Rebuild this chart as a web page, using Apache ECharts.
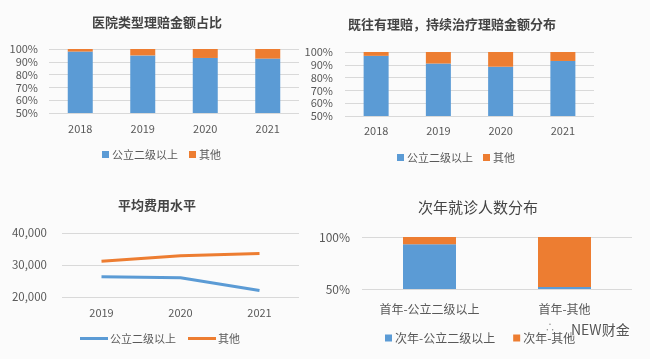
<!DOCTYPE html>
<html>
<head>
<meta charset="utf-8">
<style>
html,body{margin:0;padding:0;background:#fbfbfb;}
#c{width:650px;height:359px;filter:blur(0.4px);}
</style>
<script src="https://cdn.jsdelivr.net/npm/echarts@6/dist/echarts.min.js"></script>
</head>
<body>
<div id="c"></div>
<script>
var years4 = ['2018','2019','2020','2021'];
var years3 = ['2019','2020','2021'];
var cats4 = ['首年-公立二级以上','首年-其他'];

var amountPublic = [98, 95, 93, 92.5];
var amountOther = [2, 5, 7, 7.5];
var ongoingPublic = [97, 91, 88.5, 93];
var ongoingOther = [3, 9, 11.5, 7];
var costPublic = [26300, 26000, 22000];
var costOther = [31200, 32900, 33600];
var nextPublic = [93, 52];
var nextOther = [7, 48];

var nPublic = '公立二级以上';
var nOther = '其他';
var nNextPublic = '次年-公立二级以上';
var nNextOther = '次年-其他';

var BLUE = '#5b9bd5', ORANGE = '#ed7d31', TXT = '#595959', GRID = '#d9d9d9';
var FONT = '"Noto Sans CJK SC","Open Sans",sans-serif';

var grids = [
  {left:49, top:49, width:250, height:64},
  {left:345, top:52, width:249, height:64},
  {left:62, top:233, width:237, height:64},
  {left:362, top:237, width:270, height:52}
];
function xa(i, data, fs, margin){
  return {gridIndex:i, type:'category', data:data,
    axisLine:{show:false}, axisTick:{show:false},
    axisLabel:{color:TXT, fontSize:fs, fontFamily:FONT, margin:margin, interval:0}};
}
function ya(i, min, max, step, fmt, fs, margin){
  return {gridIndex:i, type:'value', min:min, max:max, interval:step,
    axisLine:{show:false}, axisTick:{show:false},
    splitLine:{lineStyle:{color:GRID, width:1}},
    axisLabel:{color:TXT, fontSize:fs, fontFamily:FONT, margin:margin, formatter:fmt}};
}
var pct = function(v){return v+'%';};
var thousand = function(v){return v.toLocaleString('en-US');};
function bar(i, name, data, color, w){
  return {type:'bar', name:name, xAxisIndex:i, yAxisIndex:i, stack:'s'+i, data:data,
    barWidth:w, itemStyle:{color:color}, animation:false};
}
function line(i, name, data, color){
  return {type:'line', name:name, xAxisIndex:i, yAxisIndex:i, data:data,
    showSymbol:false, symbol:'none', lineStyle:{color:color, width:3}, itemStyle:{color:color}, animation:false};
}
function title(text, cx, top, bold, size){
  return {text:text, left:cx, top:top, textAlign:'center', padding:0,
    textStyle:{color:'#444', fontSize:size||13, fontWeight:bold?'bold':'normal', fontFamily:FONT}};
}
function legend(names, left, top, lineIcon, gap, fs){
  return {left:left, top:top, itemGap:gap, itemWidth:lineIcon?28:7, itemHeight:lineIcon?3:7, padding:0,
    data:names.map(function(n){return {name:n, icon:'rect'};}),
    textStyle:{color:TXT, fontSize:fs, fontFamily:FONT, padding:[0,0,0,lineIcon?-3:-2]}, selectedMode:false};
}

var chart = echarts.init(document.getElementById('c'));
chart.setOption({
  animation:false,
  backgroundColor:'#fbfbfb',
  title:[
    title('医院类型理赔金额占比', 157, 16, true),
    title('既往有理赔，持续治疗理赔金额分布', 452, 18, true),
    title('平均费用水平', 157, 199, true),
    title('次年就诊人数分布', 478, 200, false, 15)
  ],
  grid:grids,
  xAxis:[xa(0,years4,11,10), xa(1,years4,11,9), xa(2,years3,11,10), xa(3,cats4,12,14)],
  yAxis:[
    ya(0,50,100,10,pct,11,11), ya(1,50,100,10,pct,11,12),
    ya(2,20000,40000,10000,thousand,11.5,15), ya(3,50,100,50,pct,12,12)
  ],
  legend:[
    legend([nPublic,nOther], 102, 149, false, 11, 11),
    legend([nPublic,nOther], 397, 152, false, 10, 11),
    legend([nPublic,nOther], 80, 333, true, 12, 11),
    legend([nNextPublic,nNextOther], 385, 332, false, 18, 12)
  ],
  series:[
    bar(0,nPublic,amountPublic,BLUE,25), bar(0,nOther,amountOther,ORANGE,25),
    bar(1,nPublic,ongoingPublic,BLUE,25), bar(1,nOther,ongoingOther,ORANGE,25),
    line(2,nPublic,costPublic,BLUE), line(2,nOther,costOther,ORANGE),
    bar(3,nNextPublic,nextPublic,BLUE,53), bar(3,nNextOther,nextOther,ORANGE,53)
  ],
  graphic:[
    {type:'text', left:570, top:322, z:100,
     style:{text:'NEW财金', fill:'#555', font:'14px '+FONT, stroke:'rgba(255,255,255,0.8)', lineWidth:2}},
    {type:'text', left:545, top:322, z:100,
     style:{text:'∴', fill:'#888', font:'10px '+FONT}}
  ]
});
</script>
</body>
</html>
